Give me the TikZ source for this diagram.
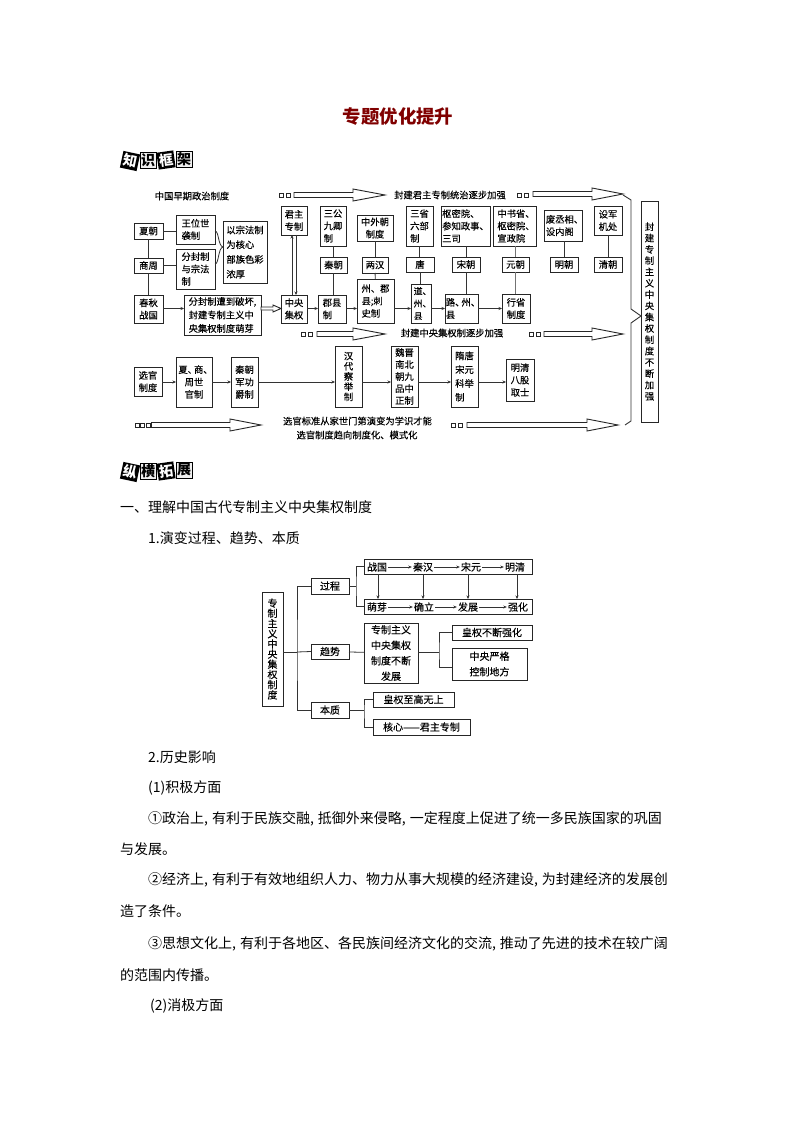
\documentclass[tikz,border=0pt]{standalone}
\usepackage{fontspec}
\setmainfont{Noto Sans CJK SC}
\newfontfamily\dg[FakeBold=0.25]{Noto Sans CJK SC}
\usetikzlibrary{arrows.meta,calc}
\newcommand{\fs}[2]{\dg\fontsize{#1}{#2}\selectfont}
\newcommand{\bx}[7][]{%
 \pgfmathsetmacro{\bxw}{#5-#3}\pgfmathsetmacro{\bxh}{#6-#4}%
 \node[bxs,minimum width=\bxw pt,minimum height=\bxh pt,#1] (#2) at ({(#3+#5)/2},{(#4+#6)/2}) {#7};}
\newcommand{\openarrow}[4]{%
 \draw[oarrow] (#1,#4-2.5)--(#2,#4-2.5)--(#2,#4-6)--(#3,#4)--(#2,#4+6)--(#2,#4+2.5)--(#1,#4+2.5)--cycle;}
\newcommand{\sq}[2]{\draw[sqs] (#1,#2-2) rectangle (#1+4,#2+2);}
\newcommand{\tagk}[5]{\node[#1,rotate=#4] at (#2,#3) {#5};}
\newcommand{\cma}{,\hspace{4pt}}
\newcommand{\dn}{、\kern-3pt}
\begin{document}
\begin{tikzpicture}[x=1pt,y=-1pt,
 bxs/.style={draw=black!85,line width=.9pt,fill=white,inner sep=0pt,outer sep=0pt,align=center,font=\fs{9.3}{12.4}},
 box2/.style={bxs,font=\fs{10}{15.5}},
 lnk/.style={draw=black!80,line width=.8pt},
 arr/.style={lnk,-{Stealth[length=3.5pt,width=3pt]}},
 oarrow/.style={draw=black!85,line width=.9pt,fill=white},
 sqs/.style={draw=black!85,line width=.7pt},
 lab/.style={inner sep=0pt,font=\fs{9.3}{14},align=center},
 lab2/.style={inner sep=0pt,font=\fs{10}{14}},
 body/.style={anchor=west,inner sep=0pt,font=\fontsize{14}{14}\selectfont},
 tagb/.style={fill=black,text=white,minimum size=17pt,inner sep=0pt,font=\fontsize{14}{14}\selectfont\bfseries},
 tagw/.style={fill=black!6,draw=black,line width=.9pt,text=black,minimum size=16pt,inner sep=0pt,font=\fontsize{14}{14}\selectfont\bfseries},
]
\useasboundingbox[fill=white] (0,0) rectangle (794,1123);
\node[inner sep=0pt,text=red!50!black,font=\fontsize{18.4}{18}\selectfont\bfseries] (title) at (398,117) {专题优化提升};
% heading tags
\tagk{tagb}{130}{161}{-12}{知}
\tagk{tagw}{148}{160}{0}{识}
\tagk{tagb}{166}{160}{8}{框}
\tagk{tagw}{184}{159}{0}{架}
\tagk{tagb}{130}{472}{-12}{纵}
\tagk{tagw}{148}{471}{0}{横}
\tagk{tagb}{166}{471}{8}{拓}
\tagk{tagw}{184}{470}{0}{展}
% ---- labels and open arrows
\node[lab] (t1) at (192,196) {中国早期政治制度};
\node[lab] (t2) at (450,195) {封建君主专制统治逐步加强};
\node[lab] (t3) at (452,333) {封建中央集权制逐步加强};
\node[lab] (t4) at (357.5,421) {选官标准从家世门第演变为学识才能};
\node[lab] (t5) at (357,435) {选官制度趋向制度化、模式化};
\sq{279}{195}\sq{286}{195}\openarrow{294}{353}{385}{195}
\sq{517}{195}\sq{524}{195}\openarrow{533}{592}{623}{194}
\sq{301}{334}\sq{308}{334}\openarrow{317}{353}{385}{334}
\sq{529}{334}\sq{536}{334}\openarrow{544}{592}{623}{334}
\sq{135}{425}\sq{140.5}{425}\sq{146}{425}\openarrow{151.5}{230}{261}{425}
\sq{451}{425}\sq{458}{425}\openarrow{467}{587}{618}{425}
% ---- boxes
\bx{xia}{134}{223}{163}{239}{夏朝}
\bx{shang}{134}{258}{163}{273}{商周}
\bx{chun}{134}{295}{163}{323}{春秋\\战国}
\bx[align=left]{wang}{176}{215}{215}{244}{王位世\\袭制}
\bx[align=left]{fen}{176}{249}{215}{289}{分封制\\与宗法\\制}
\bx[align=left,font=\fs{9.3}{14.7}]{yi}{223}{221}{267}{283}{以宗法制\\为核心\\部族色彩\\浓厚}
\bx[align=left,font=\fs{9.3}{13.5}]{po}{184}{295}{261}{335}{分封制遭到破坏,\\封建专制主义中\\央集权制度萌芽}
\bx{zhong}{281}{295}{307}{323}{中央\\集权}
\bx{jun}{281}{206}{307}{235}{君主\\专制}
\bx[align=left]{san}{320}{206}{346}{246}{三公\\九卿\\制}
\bx{qin}{320}{257}{347}{273}{秦朝}
\bx[align=left]{jx}{318}{295}{346}{323}{郡县\\制}
\bx{zw}{357}{215}{393}{241}{中外朝\\制度}
\bx{lh}{362}{257}{388}{273}{两汉}
\bx[align=left]{zh}{357}{279}{394}{323}{州、郡\\县;刺\\史制}
\bx[align=left]{sx}{406}{206}{433}{246}{三省\\六部\\制}
\bx{tang}{406}{257}{434}{272}{唐}
\bx[align=left,font=\fs{8.8}{12.4}]{dao}{411}{284}{431}{323}{道\dn\\州\dn\\县}
\bx[align=left]{shu}{441}{206}{490}{246}{枢密院、\\参知政事、\\三司}
\bx{song}{452}{257}{480}{272}{宋朝}
\bx[align=left]{lu}{445}{294}{478}{323}{路\dn 州\dn\\县}
\bx[align=left]{zs}{493}{206}{536}{246}{中书省\dn\\枢密院\dn\\宣政院}
\bx{yuan}{502}{257}{529}{272}{元朝}
\bx{xs}{502}{294}{530}{323}{行省\\制度}
\bx[align=left]{fei}{544}{210}{582}{241}{废丞相\dn\\设内阁}
\bx{ming}{550}{257}{578}{272}{明朝}
\bx{sj}{594}{206}{622}{235}{设军\\机处}
\bx{qing}{594}{257}{622}{272}{清朝}
\bx[font=\fs{9.3}{11.3}]{big}{641}{201}{658}{422}{封\\建\\专\\制\\主\\义\\中\\央\\集\\权\\制\\度\\不\\断\\加\\强}
\bx{xg}{134}{367}{162}{396}{选官\\制度}
\bx{xs2}{176}{357}{212}{407}{夏\dn 商\dn\\周世\\官制}
\bx{qj}{231}{357}{258}{407}{秦朝\\军功\\爵制}
\bx[font=\fs{9.3}{10.2}]{hd}{335}{346}{362}{407}{汉\\代\\察\\举\\制}
\bx[font=\fs{9.3}{12}]{wj}{391}{346}{418}{407}{魏晋\\南北\\朝九\\品中\\正制}
\bx[align=left,font=\fs{9.3}{13.8}]{sui}{451}{346}{478}{407}{隋唐\\宋元\\科举\\制}
\bx{mq}{506}{359}{534}{401}{明清\\八股\\取士}
% ---- links
\coordinate (ry) at (0,308.5);
\coordinate (sy) at (0,382);
\coordinate (by) at (0,247);
\draw[lnk] (xia)--(shang);\draw[lnk] (shang)--(chun);
\draw[lnk] (xia)--(xia-|wang.west);\draw[lnk] (shang)--(shang-|fen.west);
\draw[arr] (chun.east|-ry)--(po.west|-ry);
\draw[lnk] (wang.east|-0,231) .. controls (219,231) and (218,246) .. (yi.west|-by) .. controls (218,248) and (219,264) .. (fen.east|-0,264);
\draw[oarrow] ($(po.east|-ry)+(0,-1.5)$)--++(12,0)--++(0,-2)--(zhong.west|-ry)--++(-8,3.5)--++(0,-2)--++(-12,0)--cycle;
\draw[arr] ([xshift=-2pt]zhong.north)--([xshift=-2pt]jun.south);
\draw[arr] ([xshift=2pt]jun.south)--([xshift=2pt]zhong.north);
\draw[arr] (zhong.east|-ry)--(jx.west|-ry);
\draw[arr] (jx.east|-ry)--(zh.west|-ry);
\draw[arr] (zh.east|-ry)--(dao.west|-ry);
\draw[arr] (dao.east|-ry)--(lu.west|-ry);
\draw[arr] (lu.east|-ry)--(xs.west|-ry);
\draw[lnk] (san.south-|qin)--(qin.north);\draw[lnk] (qin.south)--(qin|-jx.north);
\draw[lnk] (zw)--(lh);\draw[lnk] (lh)--(zh);
\draw[lnk] (sx.south)--(sx.south|-tang.north);\draw[lnk] (tang.south)--(tang|-dao.north);
\draw[lnk] (shu.south-|song)--(song.north);\draw[lnk] (song.south)--(song|-lu.north);
\draw[lnk,line width=1.2pt,black!55] (zs.south-|yuan)--(yuan.north);\draw[lnk,line width=1.2pt,black!55] (yuan.south)--(yuan|-xs.north);
\draw[lnk] (fei.south-|ming)--(ming.north);
\draw[lnk] (sj)--(qing);
\draw[arr] (xg.east|-sy)--(xs2.west|-sy);
\draw[arr] (xs2.east|-sy)--(qj.west|-sy);
\draw[arr] (qj.east|-sy)--(hd.west|-sy);
\draw[arr] (hd.east|-sy)--(wj.west|-sy);
\draw[arr] (wj.east|-sy)--(sui.west|-sy);
\draw[arr] (sui.east|-sy)--(mq.west|-sy);
% big brace
\coordinate (br0) at (623,195);\coordinate (br1) at (631,200);\coordinate (br2) at (631,309);
\coordinate (br4) at (631,323);\coordinate (br5) at (631,421);\coordinate (br6) at (625,425);
\draw[lnk,line width=.9pt] (br0)--(br1)--(br2)--(big.west|-0,316)--(br4)--(br5)--(br6);
% ---- body text
\node[body] (l1) at (120,507) {一、理解中国古代专制主义中央集权制度};
\node[body] (l2) at (148,538) {1.演变过程、趋势、本质};
\node[body] (l3) at (148,757) {2.历史影响};
\node[body] (l4) at (148,788) {(1)积极方面};
\node[body] (l5) at (148,819) {①政治上\cma 有利于民族交融\cma 抵御外来侵略\cma 一定程度上促进了统一多民族国家的巩固};
\node[body] (l6) at (120,849) {与发展。};
\node[body] (l7) at (148,880) {②经济上\cma 有利于有效地组织人力、物力从事大规模的经济建设\cma 为封建经济的发展创};
\node[body] (l8) at (120,911) {造了条件。};
\node[body] (l9) at (148,944) {③思想文化上\cma 有利于各地区、各民族间经济文化的交流\cma 推动了先进的技术在较广阔};
\node[body] (l10) at (120,975) {的范围内传播。};
\node[body] (l11) at (150,1006) {(2)消极方面};
% ---- diagram 2
\bx[box2,font=\fs{10}{10.2}]{zz}{262}{592}{283}{706}{专\\制\\主\\义\\中\\央\\集\\权\\制\\度}
\bx[box2]{gc}{311}{578}{349}{594}{过程}
\bx[box2]{qs}{311}{644}{349}{659}{趋势}
\bx[box2]{bz}{311}{702}{349}{718}{本质}
\bx[box2]{row1}{364}{559}{532}{574}{}
\bx[box2]{row2}{364}{599}{532}{614}{}
\bx[box2]{fz}{364}{623}{418}{683}{专制主义\\中央集权\\制度不断\\发展}
\bx[box2]{hq}{452}{625}{532}{640}{皇权不断强化}
\bx[box2]{yg}{452}{648}{527}{680}{中央严格\\控制地方}
\bx[box2]{zg}{373}{692}{454}{707}{皇权至高无上}
\bx[box2]{hx}{373}{719}{470}{735}{核心——君主专制}
\node[lab2] (a1) at (377,567) {战国};\node[lab2] (a2) at (423,567) {秦汉};
\node[lab2] (a3) at (471,567) {宋元};\node[lab2] (a4) at (515,567) {明清};
\node[lab2] (b1) at (377,607) {萌芽};\node[lab2] (b2) at (424,607) {确立};
\node[lab2] (b3) at (468,607) {发展};\node[lab2] (b4) at (518,607) {强化};
\draw[arr] (a1.east)++(1,0)--($(a2.west)+(-1,0)$);
\draw[arr] (a2.east)++(1,0)--($(a3.west)+(-1,0)$);
\draw[arr] (a3.east)++(1,0)--($(a4.west)+(-1,0)$);
\draw[arr] (b1.east)++(1,0)--($(b2.west)+(-1,0)$);
\draw[arr] (b2.east)++(1,0)--($(b3.west)+(-1,0)$);
\draw[arr] (b3.east)++(1,0)--($(b4.west)+(-1,0)$);
\draw[arr] ([xshift=1pt]a1|-row1.south)--([xshift=1pt]a1|-row2.north);
\draw[arr] (a2|-row1.south)--(a2|-row2.north);
\draw[arr] ([xshift=-3pt]a3|-row1.south)--([xshift=-3pt]a3|-row2.north);
\draw[arr] ([xshift=2pt]a4|-row1.south)--([xshift=2pt]a4|-row2.north);
\coordinate (tr) at (297,652);
\draw[lnk] (zz.east|-tr)--(tr);
\draw[lnk] (gc.west)-|(tr)|-(bz.west);
\draw[lnk] (tr)--(qs.west);
\coordinate (t2x) at (356,586);
\draw[lnk] (gc.east)--(t2x);
\draw[lnk] (row1.west)-|(t2x)|-(row2.west);
\draw[lnk] (qs)--(fz);
\coordinate (t3x) at (439,652);
\draw[lnk] (fz.east|-t3x)--(t3x);
\draw[lnk] (hq.west)-|(t3x)|-(yg.west|-0,667);
\coordinate (t4x) at (364,710);
\draw[lnk] (bz)--(t4x);
\draw[lnk] (zg.west)-|(t4x)|-(hx.west);
\end{tikzpicture}
\end{document}
